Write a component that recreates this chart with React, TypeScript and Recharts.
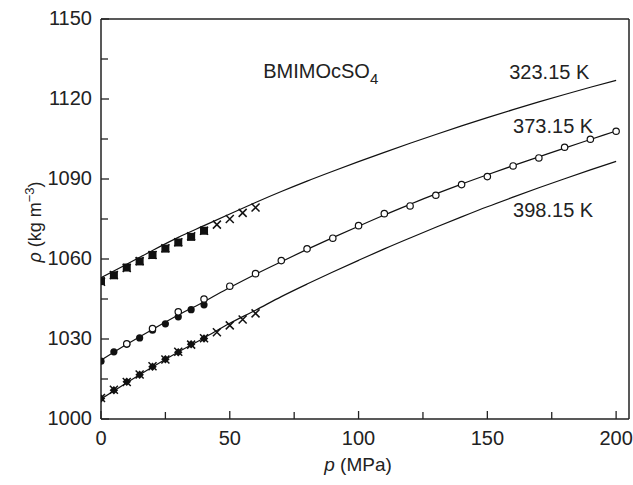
import { ComposedChart, Line, ReferenceDot, ReferenceLine, Scatter, XAxis, YAxis } from "recharts";

// fitted curves, read every 10 MPa
const curvePressure = [0, 10, 20, 30, 40, 50, 60, 70, 80, 90, 100, 110, 120, 130, 140, 150, 160, 170, 180, 190, 200];
const curve323 = [1053, 1058, 1063.2, 1068.1, 1072.5, 1076.9, 1081.2, 1085.3, 1089.2, 1092.9, 1096.5, 1100, 1103.4, 1106.7, 1109.9, 1113, 1116, 1118.9, 1121.7, 1124.4, 1127];
const curve373 = [1022, 1028, 1033.6, 1039, 1044, 1049.3, 1054.3, 1059, 1063.6, 1068, 1072.3, 1076.5, 1080.5, 1084.4, 1088.1, 1091.6, 1095, 1098.3, 1101.6, 1104.8, 1108];
const curve398 = [1007.5, 1013.6, 1019.5, 1025.1, 1030.4, 1035.9, 1040.8, 1045.9, 1050.6, 1055.1, 1059.5, 1063.8, 1067.9, 1071.9, 1075.8, 1079.6, 1083.2, 1086.7, 1090.1, 1093.4, 1096.6];

// measured points
const lowPressure = [0, 5, 10, 15, 20, 25, 30, 35, 40];
const crossPressure = [0, 5, 10, 15, 20, 25, 30, 35, 40, 45, 50, 55, 60];
const circlePressure = [10, 20, 30, 40, 50, 60, 70, 80, 90, 100, 110, 120, 130, 140, 150, 160, 170, 180, 190, 200];

const squares323 = [1051.7, 1053.9, 1056.8, 1059.1, 1061.5, 1063.9, 1066.2, 1068.3, 1070.6];
const crosses323 = [1051.5, 1054, 1056.6, 1059.2, 1061.5, 1064, 1066.3, 1068.5, 1070.6, 1072.9, 1075, 1077.3, 1079.3];
const dots373 = [1021.7, 1025.2, 1028, 1030.4, 1033.3, 1035.7, 1038.3, 1041, 1042.8];
const circles373 = [1028.2, 1033.9, 1040.2, 1045, 1049.8, 1054.5, 1059.4, 1063.8, 1067.8, 1072.5, 1077, 1079.9, 1083.9, 1087.9, 1090.9, 1094.9, 1097.9, 1101.9, 1104.9, 1107.9];
const crosses398 = [1007.9, 1011, 1013.9, 1016.7, 1019.8, 1022.3, 1025.2, 1027.9, 1030.3, 1032.5, 1035.1, 1037.3, 1039.6];
const filled398 = [1007.7, 1010.8, 1014, 1016.6, 1019.6, 1022.4, 1025, 1028, 1030.2];

const xTicks = [0, 25, 50, 75, 100, 125, 150, 175, 200];
const yTicks = [1000, 1015, 1030, 1045, 1060, 1075, 1090, 1105, 1120, 1135, 1150];

const ink = "#222";
const font = "'Liberation Sans', Arial, sans-serif";

const pts = (ps: number[], vs: number[]) => ps.map((p, i) => ({ p, rho: vs[i] }));

const XTick = ({ x, y, payload }: any) => {
  const major = payload.value % 50 === 0;
  return (
    <g>
      <line x1={x} y1={y} x2={x} y2={y - (major ? 8 : 7)} stroke={ink} strokeWidth={1.3} />
      {major && (
        <text x={x} y={y + 26} textAnchor="middle" fontSize={20} fill={ink} fontFamily={font}>
          {payload.value}
        </text>
      )}
    </g>
  );
};

const YTick = ({ x, y, payload }: any) => {
  const major = (payload.value - 1000) % 30 === 0;
  return (
    <g>
      <line x1={x} y1={y} x2={x + (major ? 8 : 7)} y2={y} stroke={ink} strokeWidth={1.3} />
      {major && (
        <text x={x - 9} y={y + 6} textAnchor="end" fontSize={20} fill={ink} fontFamily={font}>
          {payload.value}
        </text>
      )}
    </g>
  );
};

const Square = ({ cx, cy }: any) => <rect x={cx - 4} y={cy - 4} width={8} height={8} fill="#111" />;
const SmallSquare = ({ cx, cy }: any) => (
  <rect x={cx - 3} y={cy - 3} width={6} height={6} fill="#111" transform={`rotate(45 ${cx} ${cy})`} />
);
const Cross = ({ cx, cy }: any) => (
  <path
    d={`M${cx - 4},${cy - 4}L${cx + 4},${cy + 4}M${cx - 4},${cy + 4}L${cx + 4},${cy - 4}`}
    stroke="#111"
    strokeWidth={1.5}
  />
);
const FilledDot = ({ cx, cy }: any) => <circle cx={cx} cy={cy} r={3.6} fill="#111" />;
const OpenDot = ({ cx, cy }: any) => <circle cx={cx} cy={cy} r={3.2} fill="#fff" stroke="#111" strokeWidth={1.2} />;

const note = (text: string, sub?: string) => (props: any) => (
  <text x={props.viewBox.x} y={props.viewBox.y} fontSize={20} fill={ink} fontFamily={font}>
    {text}
    {sub && (
      <tspan dy={6} fontSize={15}>
        {sub}
      </tspan>
    )}
  </text>
);

export default function App() {
  return (
    <div style={{ position: "absolute", left: 0, top: 0, background: "#fff" }}>
      <ComposedChart width={633} height={485} margin={{ top: 19, right: 4, bottom: 0, left: 0 }}>
        <XAxis
          type="number"
          dataKey="p"
          domain={[0, 205]}
          allowDataOverflow
          ticks={xTicks}
          interval={0}
          tickSize={0}
          tickMargin={0}
          tickLine={false}
          tick={<XTick />}
          height={66}
          axisLine={{ stroke: ink, strokeWidth: 1.5 }}
          label={() => (
            <text x={358} y={471} textAnchor="middle" fontSize={19} fill={ink} fontFamily={font}>
              <tspan fontStyle="italic">p</tspan> (MPa)
            </text>
          )}
        />
        <YAxis
          type="number"
          dataKey="rho"
          domain={[1000, 1150]}
          allowDataOverflow
          ticks={yTicks}
          interval={0}
          tickSize={0}
          tickMargin={0}
          tickLine={false}
          tick={<YTick />}
          width={101}
          axisLine={{ stroke: ink, strokeWidth: 1.5 }}
          label={() => (
            <text
              x={41}
              y={222}
              textAnchor="middle"
              fontSize={18}
              fill={ink}
              fontFamily={font}
              transform="rotate(-90 41 222)"
            >
              <tspan fontStyle="italic">ρ</tspan> (kg m
              <tspan dy={-7} fontSize={13}>
                −3
              </tspan>
              <tspan dy={7}>)</tspan>
            </text>
          )}
        />
        <ReferenceLine y={1150} stroke={ink} strokeWidth={1.5} />
        <ReferenceLine x={205} stroke={ink} strokeWidth={1.5} />

        <Line data={pts(curvePressure, curve323)} dataKey="rho" type="monotone" stroke="#111" strokeWidth={1.2} dot={false} isAnimationActive={false} />
        <Line data={pts(curvePressure, curve373)} dataKey="rho" type="monotone" stroke="#111" strokeWidth={1.2} dot={false} isAnimationActive={false} />
        <Line data={pts(curvePressure, curve398)} dataKey="rho" type="monotone" stroke="#111" strokeWidth={1.2} dot={false} isAnimationActive={false} />

        <Scatter data={pts(lowPressure, squares323)} dataKey="rho" shape={<Square />} isAnimationActive={false} />
        <Scatter data={pts(crossPressure, crosses323)} dataKey="rho" shape={<Cross />} isAnimationActive={false} />
        <Scatter data={pts(lowPressure, dots373)} dataKey="rho" shape={<FilledDot />} isAnimationActive={false} />
        <Scatter data={pts(circlePressure, circles373)} dataKey="rho" shape={<OpenDot />} isAnimationActive={false} />
        <Scatter data={pts(lowPressure, filled398)} dataKey="rho" shape={<SmallSquare />} isAnimationActive={false} />
        <Scatter data={pts(crossPressure, crosses398)} dataKey="rho" shape={<Cross />} isAnimationActive={false} />

        <ReferenceDot x={63} y={1128} r={0} fill="none" stroke="none" label={note("BMIMOcSO", "4")} />
        <ReferenceDot x={158.5} y={1127.5} r={0} fill="none" stroke="none" label={note("323.15 K")} />
        <ReferenceDot x={160} y={1107.4} r={0} fill="none" stroke="none" label={note("373.15 K")} />
        <ReferenceDot x={160} y={1075.6} r={0} fill="none" stroke="none" label={note("398.15 K")} />
      </ComposedChart>
    </div>
  );
}
